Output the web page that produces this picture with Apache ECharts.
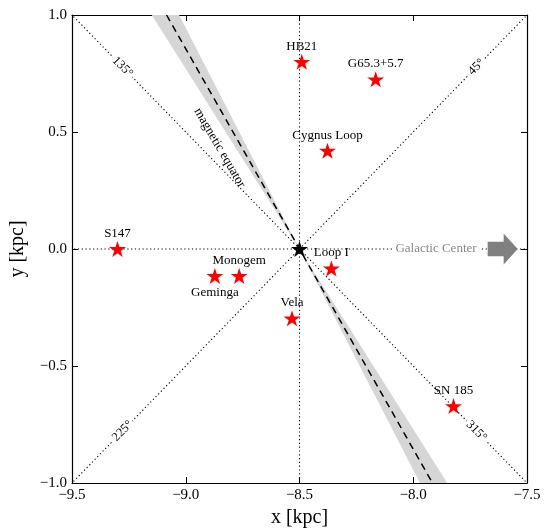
<!DOCTYPE html>
<html><head><meta charset="utf-8">
<script src="https://cdn.jsdelivr.net/npm/echarts@6/dist/echarts.min.js"></script>
<style>html,body{margin:0;padding:0;background:#fff}#c{width:544px;height:528px}</style>
</head><body><div id="c"></div>
<script>
// ---- data ----
const sourceNames = ['HB21', 'G65.3+5.7', 'Cygnus Loop', 'S147', 'Monogem', 'Geminga', 'Loop I', 'Vela', 'SN 185'];
const sourceX = [-8.49, -8.165, -8.377, -9.30, -8.765, -8.872, -8.36, -8.533, -7.823];
const sourceY = [0.80, 0.725, 0.42, 0.0, -0.115, -0.115, -0.083, -0.296, -0.671];
const sunPos = [-8.5, 0.0];
const rayAngles = [0, 45, 90, 135, 180, 225, 270, 315];
const angleLabelAngles = [45, 135, 225, 315];
const angleLabelTexts = ['45°', '135°', '225°', '315°'];
const magEqAngle = 120.3;
const magEqBand = [117.9, 123.0];
const xRange = [-9.5, -7.5];
const yRange = [-1.0, 1.0];
const galacticCenterLabel = 'Galactic Center';
const magEqLabel = 'magnetic equator';

// ---- helpers ----
const FONT = 'Liberation Serif';
function rad(a) { return a * Math.PI / 180; }
function boxEnd(angle) {
  const c = Math.cos(rad(angle)), s = Math.sin(rad(angle));
  const hx = Math.abs(c) < 1e-9 ? Infinity : (c > 0 ? xRange[1] - sunPos[0] : sunPos[0] - xRange[0]) / Math.abs(c);
  const hy = Math.abs(s) < 1e-9 ? Infinity : (s > 0 ? yRange[1] - sunPos[1] : sunPos[1] - yRange[0]) / Math.abs(s);
  const t = Math.min(hx, hy);
  return [sunPos[0] + t * c, sunPos[1] + t * s];
}
function alongRay(angle, r) {
  return [sunPos[0] + r * Math.cos(rad(angle)), sunPos[1] + r * Math.sin(rad(angle))];
}
function starPath() {
  let d = '';
  for (let i = 0; i < 10; i++) {
    const r = i % 2 === 0 ? 1 : 0.381966;
    const a = rad(90 + i * 36);
    const px = (r * Math.cos(a)).toFixed(4), py = (-r * Math.sin(a)).toFixed(4);
    d += (i === 0 ? 'M' : 'L') + px + ',' + py + ' ';
  }
  return 'path://' + d + 'Z';
}
const STAR = starPath();
const ARROW = 'path://M0,8 L16,8 L16,0 L30,15 L16,30 L16,22 L0,22 Z';
const fmt = v => (Math.abs(v) < 1e-9 ? 0 : v).toFixed(1).replace('-', '\u2212');
const belowLabels = new Set(['Geminga']);

const series = [];
// dotted rays
rayAngles.forEach(a => {
  series.push({
    type: 'line', data: [sunPos, boxEnd(a)], symbol: 'none', silent: true, z: 1,
    lineStyle: { color: '#000', width: 1.1, type: [1.2, 2.6] }
  });
});
// magnetic equator band
series.push({
  type: 'custom', coordinateSystem: 'cartesian2d', silent: true, z: 2, data: [[0]],
  renderItem(params, api) {
    const wedges = [[magEqBand[0], magEqBand[1]], [magEqBand[0] + 180, magEqBand[1] + 180]];
    return {
      type: 'group',
      children: wedges.map(([a1, a2]) => ({
        type: 'polygon',
        shape: { points: [api.coord(sunPos), api.coord(boxEnd(a1)), api.coord(boxEnd(a2))] },
        style: { fill: '#d6d6d6', stroke: null }
      }))
    };
  }
});
// magnetic equator dashed line
series.push({
  type: 'line', data: [boxEnd(magEqAngle), boxEnd(magEqAngle + 180)], symbol: 'none', silent: true, z: 3,
  lineStyle: { color: '#000', width: 1.5, type: [7, 5] }
});
const hidden = { color: 'rgba(0,0,0,0)', opacity: 1 };
// angle labels
series.push({
  type: 'scatter', silent: true, z: 4, symbolSize: 1, itemStyle: hidden,
  data: angleLabelAngles.map((a, i) => {
    let rot = a % 180; if (rot > 90) rot -= 180;
    return {
      value: alongRay(a, 1.1),
      label: {
        show: true, position: 'inside', formatter: angleLabelTexts[i], rotate: rot,
        fontFamily: FONT, fontSize: 12.5, color: '#000', opacity: 1, backgroundColor: '#fff', padding: [0, 2]
      }
    };
  })
});
// magnetic equator text
series.push({
  type: 'scatter', silent: true, z: 4, symbolSize: 1, itemStyle: hidden,
  data: [{
    value: [-8.851, 0.432],
    label: { show: true, position: 'inside', formatter: magEqLabel, rotate: magEqAngle - 180,
      fontFamily: FONT, fontSize: 13, color: '#000', opacity: 1 }
  }]
});
// Galactic center text + arrow
series.push({
  type: 'scatter', silent: true, z: 4, symbolSize: 1, itemStyle: hidden,
  data: [{
    value: [-7.9, 0],
    label: { show: true, position: 'inside', formatter: galacticCenterLabel,
      fontFamily: FONT, fontSize: 13, color: '#888', opacity: 1, backgroundColor: '#fff', padding: [1, 3] }
  }]
});
series.push({
  type: 'scatter', silent: true, z: 5, symbol: ARROW, symbolSize: [30, 31],
  itemStyle: { color: '#808080', opacity: 1 },
  data: [[-7.607, 0]]
});
// sources
series.push({
  type: 'scatter', silent: true, z: 6, symbol: STAR, symbolSize: [17, 16],
  itemStyle: { color: '#ff0000', opacity: 1 },
  data: sourceNames.map((n, i) => ({
    value: [sourceX[i], sourceY[i]],
    label: {
      show: true, formatter: n, position: belowLabels.has(n) ? 'bottom' : 'top',
      distance: belowLabels.has(n) ? 2 : 1,
      fontFamily: FONT, fontSize: 13, color: '#000', opacity: 1
    }
  }))
});
// Sun
series.push({
  type: 'scatter', silent: true, z: 7, symbol: STAR, symbolSize: [17, 16],
  itemStyle: { color: '#000', opacity: 1 }, data: [sunPos]
});

const axisLineStyle = { color: '#000', width: 1.2 };
const option = {
  animation: false,
  backgroundColor: '#fff',
  grid: { left: 72, right: 17, top: 15, bottom: 45, outerBoundsMode: 'none', containLabel: false },
  xAxis: [{
    type: 'value', min: xRange[0], max: xRange[1], interval: 0.5,
    name: 'x [kpc]', nameLocation: 'middle', nameGap: 24,
    nameTextStyle: { fontFamily: FONT, fontSize: 20, color: '#000' },
    axisLine: { onZero: false, lineStyle: axisLineStyle },
    axisTick: { inside: true, length: 6, lineStyle: { color: '#000' } },
    axisLabel: { formatter: fmt, fontFamily: FONT, fontSize: 15, color: '#000', margin: 5, showMinLabel: true, showMaxLabel: true },
    splitLine: { show: false }
  }, {
    type: 'value', position: 'top', min: xRange[0], max: xRange[1], interval: 0.5,
    axisLine: { onZero: false, lineStyle: axisLineStyle },
    axisTick: { inside: true, length: 6, lineStyle: { color: '#000' } },
    axisLabel: { show: false }, splitLine: { show: false }
  }],
  yAxis: [{
    type: 'value', min: yRange[0], max: yRange[1], interval: 0.5,
    name: 'y [kpc]', nameLocation: 'middle', nameGap: 44,
    nameTextStyle: { fontFamily: FONT, fontSize: 20, color: '#000' },
    axisLine: { onZero: false, lineStyle: axisLineStyle },
    axisTick: { inside: true, length: 6, lineStyle: { color: '#000' } },
    axisLabel: { formatter: fmt, fontFamily: FONT, fontSize: 15, color: '#000', margin: 5, showMinLabel: true, showMaxLabel: true },
    splitLine: { show: false }
  }, {
    type: 'value', position: 'right', min: yRange[0], max: yRange[1], interval: 0.5,
    axisLine: { onZero: false, lineStyle: axisLineStyle },
    axisTick: { inside: true, length: 6, lineStyle: { color: '#000' } },
    axisLabel: { show: false }, splitLine: { show: false }
  }],
  series: series
};
const chart = echarts.init(document.getElementById('c'), null, { renderer: 'canvas' });
chart.setOption(option);
</script>
</body></html>
